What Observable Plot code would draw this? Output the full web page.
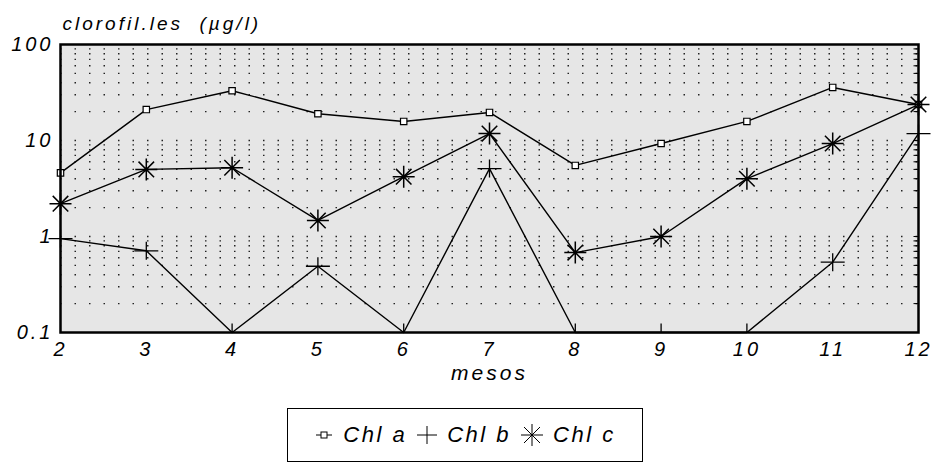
<!DOCTYPE html>
<html>
<head>
<meta charset="utf-8">
<script src="https://cdn.jsdelivr.net/npm/d3@7"></script>
<script src="https://cdn.jsdelivr.net/npm/@observablehq/plot@0.6"></script>
<style>
  body { margin: 0; background: #fff; width: 937px; height: 464px; overflow: hidden; }
  #legend {
    position: absolute; left: 287px; top: 408px; width: 356px; height: 54px;
    border: 1.5px solid #000; box-sizing: border-box;
    display: flex; align-items: center; justify-content: center; gap: 9px;
    font-family: "Liberation Sans", Arial, sans-serif; font-style: italic; font-size: 22px; letter-spacing: 2.5px; color: #000;
  }
  #legend svg { display: block; }
  #chart svg text { letter-spacing: 3px; }
</style>
</head>
<body>
<div id="chart"></div>
<div id="legend"></div>
<script>
// ---- data ----
const months = [2, 3, 4, 5, 6, 7, 8, 9, 10, 11, 12];
const chlA = [4.6, 21, 33, 19, 15.8, 19.6, 5.5, 9.3, 15.8, 35.7, 23.7];
const chlB = [0.95, 0.71, 0.1, 0.49, 0.1, 5.1, 0.1, 0.1, 0.1, 0.54, 11.8];
const chlC = [2.2, 5.0, 5.2, 1.47, 4.2, 11.8, 0.68, 1.0, 4.0, 9.3, 23.7];
const yTicks = [0.1, 1, 10, 100];
const yTickLabels = ["0.1", "1", "10", "100"];
const yGrid = [0.2, 0.3, 0.4, 0.5, 0.6, 0.7, 0.8, 0.9, 1, 2, 3, 4, 5, 6, 7, 8, 9, 10, 20, 30, 40, 50, 60, 70, 80, 90];
const seriesNames = ["Chl a", "Chl b", "Chl c"];
const title = "clorofil.les  (\u00b5g/l)";
const xTitle = "mesos";

// ---- build tables ----
const rowsA = months.map((m, i) => ({month: m, value: chlA[i]}));
const rowsB = months.map((m, i) => ({month: m, value: chlB[i]}));
const rowsC = months.map((m, i) => ({month: m, value: chlC[i]}));
const yMin = yTicks[0];
const xMax = months[months.length - 1];

// ---- custom symbols ----
const plusSym = {draw(ctx, size) {
  const r = Math.sqrt(size / Math.PI);
  ctx.moveTo(-r, 0); ctx.lineTo(r, 0);
  ctx.moveTo(0, -r * 0.75); ctx.lineTo(0, r * 0.75);
}};
const tickUpSym = {draw(ctx, size) {
  const r = Math.sqrt(size / Math.PI);
  ctx.moveTo(0, 0); ctx.lineTo(0, -r * 0.75);
}};
const starSym = {draw(ctx, size) {
  const r = Math.sqrt(size / Math.PI);
  for (let k = 0; k < 4; k++) {
    const a = k * Math.PI / 4;
    ctx.moveTo(-r * Math.cos(a), -r * Math.sin(a));
    ctx.lineTo(r * Math.cos(a), r * Math.sin(a));
  }
}};
const rightTickSym = {draw(ctx, size) {
  const r = Math.sqrt(size / Math.PI);
  ctx.moveTo(-r, 0); ctx.lineTo(0, 0);
}};

const chart = Plot.plot({
  width: 937,
  height: 395,
  marginTop: 44,
  marginBottom: 63,
  marginLeft: 60,
  marginRight: 19,
  style: {fontFamily: "'Liberation Sans', Arial, sans-serif", fontStyle: "italic", fontSize: "20px", color: "#000", background: "#fff"},
  x: {type: "linear", domain: [2, 12], ticks: months, tickFormat: d => String(d), tickSize: 0, tickPadding: 9, label: null},
  y: {type: "log", domain: [0.1, 100], ticks: yTicks, tickFormat: d => yTickLabels[yTicks.indexOf(d)], tickSize: 0, tickPadding: 7, label: null},
  marks: [
    Plot.frame({fill: "#e6e6e6"}),
    Plot.ruleY(yGrid, {stroke: "#222", strokeWidth: 1.4, strokeDasharray: "1.5,13"}),
    Plot.dot(yGrid.map(v => ({value: v})), {x: () => xMax, y: "value", symbol: rightTickSym, r: 5, stroke: "#000", strokeWidth: 1}),
    Plot.line(rowsA, {x: "month", y: "value", stroke: "#000", strokeWidth: 1.4}),
    Plot.line(rowsB, {x: "month", y: "value", stroke: "#000", strokeWidth: 1.4}),
    Plot.line(rowsC, {x: "month", y: "value", stroke: "#000", strokeWidth: 1.4}),
    Plot.dot(rowsA, {x: "month", y: "value", symbol: "square", r: 3.6, fill: "#fff", stroke: "#000", strokeWidth: 1.2}),
    Plot.dot(rowsB.filter(d => d.value > yMin), {x: "month", y: "value", symbol: plusSym, r: 12, fill: "none", stroke: "#000", strokeWidth: 1.3}),
    Plot.dot(rowsB.filter(d => d.value <= yMin), {x: "month", y: "value", symbol: tickUpSym, r: 12, fill: "none", stroke: "#000", strokeWidth: 1.3}),
    Plot.dot(rowsC, {x: "month", y: "value", symbol: starSym, r: 11, fill: "none", stroke: "#000", strokeWidth: 1.5}),
    Plot.frame({stroke: "#000", strokeWidth: 2.5}),
    Plot.text([title], {frameAnchor: "top-left", dx: 2, dy: -28, text: d => d, fontSize: 19, textAnchor: "start", fill: "#000"}),
    Plot.text([xTitle], {frameAnchor: "bottom", dy: 47, text: d => d, fontSize: 21, fill: "#000"})
  ]
});
document.getElementById("chart").appendChild(chart);

// ---- legend ----
const legend = document.getElementById("legend");
const symSvgs = [
  '<svg width="20" height="14" viewBox="-10 -7 20 14"><line x1="-8" x2="8" y1="0" y2="0" stroke="#000" stroke-width="1"/><rect x="-3" y="-3" width="6" height="6" fill="#fff" stroke="#000" stroke-width="1"/></svg>',
  '<svg width="22" height="22" viewBox="-11 -11 22 22"><path d="M-10,0H10M0,-9V9" stroke="#000" stroke-width="1"/></svg>',
  '<svg width="24" height="24" viewBox="-12 -12 24 24"><path d="M-11,0H11M0,-11V11M-8,-8L8,8M-8,8L8,-8" stroke="#000" stroke-width="1"/></svg>'
];
seriesNames.forEach((name, i) => {
  const s = document.createElement("span");
  s.innerHTML = symSvgs[i];
  legend.appendChild(s);
  const t = document.createElement("span");
  t.textContent = name;
  legend.appendChild(t);
});
</script>
</body>
</html>
